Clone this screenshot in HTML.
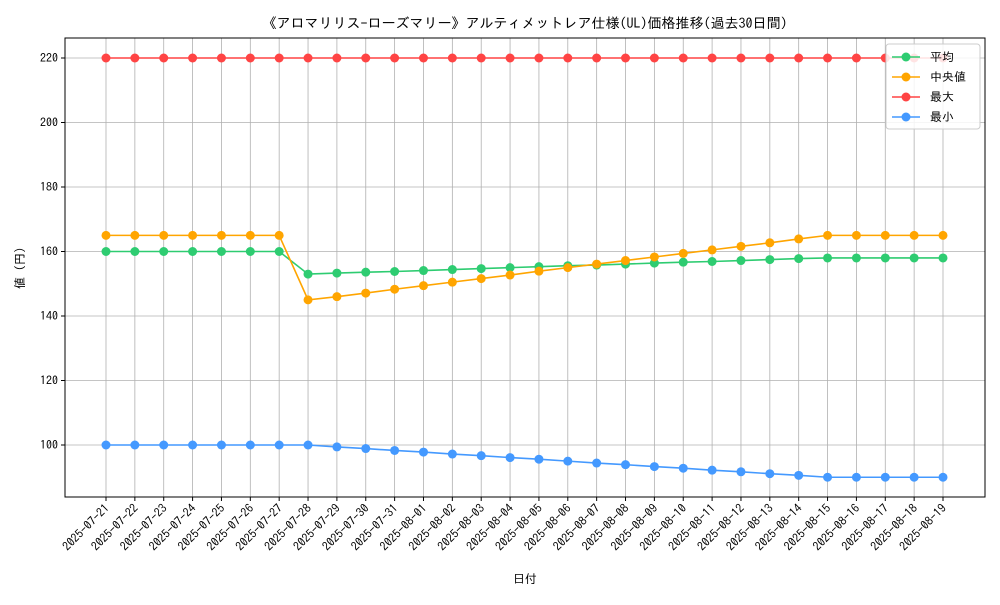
<!DOCTYPE html>
<html><head><meta charset="utf-8">
<style>
body{margin:0;background:#fff;}
svg{font-family:"IPAGothic","Noto Sans CJK JP",sans-serif;}
</style></head>
<body>
<svg id="chart" width="1000" height="600">
<rect width="1000" height="600" fill="#fff"/>
<text x="525" y="28" text-anchor="middle" font-size="14">《アロマリリス-ローズマリー》アルティメットレア仕様(UL)価格推移(過去30日間)</text>
<g id="grid"></g>
<g id="axes"></g>
<g id="series"></g>
<text x="525" y="583" text-anchor="middle" font-size="12">日付</text>
<text transform="translate(24,268) rotate(-90)" text-anchor="middle" font-size="12">値 (円)</text>
<g id="legend"></g>
</svg>
<script>
const dates=["2025-07-21","2025-07-22","2025-07-23","2025-07-24","2025-07-25","2025-07-26","2025-07-27","2025-07-28","2025-07-29","2025-07-30","2025-07-31","2025-08-01","2025-08-02","2025-08-03","2025-08-04","2025-08-05","2025-08-06","2025-08-07","2025-08-08","2025-08-09","2025-08-10","2025-08-11","2025-08-12","2025-08-13","2025-08-14","2025-08-15","2025-08-16","2025-08-17","2025-08-18","2025-08-19"];
const meanVals=[160,160,160,160,160,160,160,153,153.3,153.6,153.8,154.1,154.4,154.7,155,155.3,155.6,155.8,156.1,156.4,156.7,156.9,157.2,157.5,157.8,158,158,158,158,158];
const medianVals=[165,165,165,165,165,165,165,145,146,147.1,148.3,149.4,150.5,151.6,152.7,153.9,155,156.1,157.2,158.3,159.4,160.5,161.6,162.7,163.9,165,165,165,165,165];
const maxVals=[220,220,220,220,220,220,220,220,220,220,220,220,220,220,220,220,220,220,220,220,220,220,220,220,220,220,220,220,220,220];
const minVals=[100,100,100,100,100,100,100,100,99.4,98.9,98.3,97.8,97.2,96.7,96.1,95.6,95,94.4,93.9,93.3,92.8,92.2,91.7,91.1,90.6,90,90,90,90,90];
const yTicks=[100,120,140,160,180,200,220];
const seriesNames=["平均","中央値","最大","最小"];
const NS="http://www.w3.org/2000/svg";
const L=65,R=985,T=38,B=497;
const x=i=>106+i*(943-106)/(dates.length-1);
const y=v=>445+(v-100)*(58-445)/120;
function mk(tag,attrs,parent){const e=document.createElementNS(NS,tag);for(const k in attrs)e.setAttribute(k,attrs[k]);parent.appendChild(e);return e;}
const grid=document.getElementById('grid'),axes=document.getElementById('axes'),ser=document.getElementById('series'),leg=document.getElementById('legend');
dates.forEach((d,i)=>{
 const gl=mk('line',{x1:x(i),x2:x(i),y1:T,y2:B,stroke:'#b0b0b0','stroke-width':0.8},grid);
 
 
 mk('line',{x1:x(i),x2:x(i),y1:B,y2:B+4,stroke:'#000'},axes);
 const t=mk('text',{x:0,y:0,'font-size':12,'text-anchor':'end',transform:`translate(${x(i)+4},${B+12}) rotate(-45)`},axes);
 t.textContent=d;
 
 
});
yTicks.forEach(v=>{
 const gl=mk('line',{x1:L,x2:R,y1:y(v),y2:y(v),stroke:'#b0b0b0','stroke-width':0.8},grid);
 
 
 mk('line',{x1:L-4,x2:L,y1:y(v),y2:y(v),stroke:'#000'},axes);
 const t=mk('text',{x:L-7,y:y(v)+4,'font-size':12,'text-anchor':'end'},axes);
 t.textContent=v;
 
 
});
const frame=mk('rect',{x:L,y:T,width:R-L,height:B-T,fill:'none',stroke:'#000','stroke-width':1},axes);


const all=[[meanVals,'#2ecc71','mean'],[medianVals,'#ffa500','median'],[maxVals,'#ff4444','max'],[minVals,'#4499ff','min']];
all.forEach(([vals,c,n])=>{
 const g=mk('g',{},ser);
 
 
 const p=mk('polyline',{points:vals.map((v,i)=>x(i)+','+y(v)).join(' '),fill:'none',stroke:c,'stroke-width':1.6},g);
 
 
 vals.forEach((v,i)=>{
  const m=mk('circle',{cx:x(i),cy:y(v),r:4.5,fill:c},g);
  
  
 });
});
const lb=mk('rect',{x:886,y:44,width:94,height:85,fill:'#fff','fill-opacity':0.85,stroke:'#ccc',rx:3},leg);


all.forEach(([v,c,n],k)=>{
 const yy=57+k*20;
 const g=mk('g',{},leg);
 
 
 mk('line',{x1:892,x2:920,y1:yy,y2:yy,stroke:c,'stroke-width':1.6},g);
 mk('circle',{cx:906,cy:yy,r:4.5,fill:c},g);
 const t=mk('text',{x:930,y:yy+4,'font-size':12},g);
 t.textContent=seriesNames[k];
});
</script>
</body></html>
